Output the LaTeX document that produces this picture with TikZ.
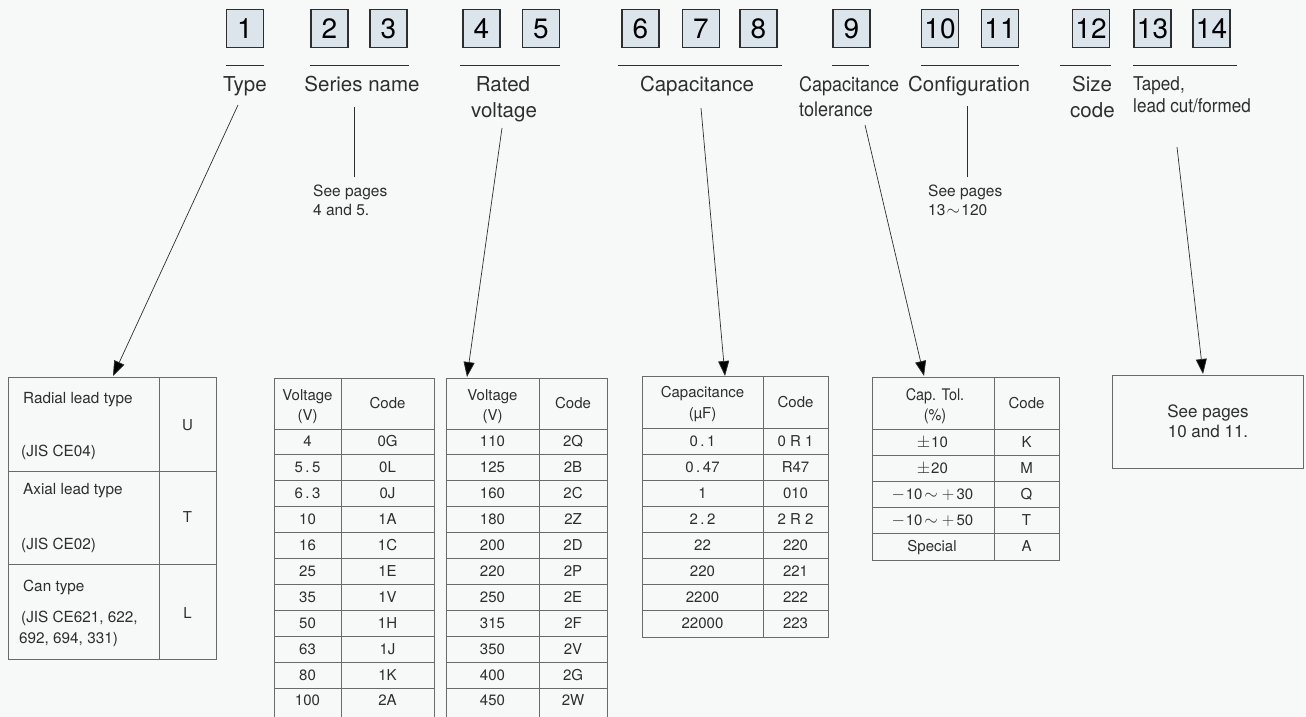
\documentclass[tikz,border=0pt]{standalone}
\usepackage{fontspec}
\setmainfont{TeX Gyre Heros}
\newfontfamily\narrowfont[FakeStretch=0.9]{TeX Gyre Heros}
\usetikzlibrary{arrows.meta}
\definecolor{bg}{HTML}{F7F8F8}
\definecolor{boxfill}{HTML}{DCE4EC}
\definecolor{ink}{HTML}{2E2E2E}
\definecolor{gridc}{HTML}{6A6A6A}
\newcommand{\wsym}[2]{\makebox[#1]{\fontsize{19}{19}\selectfont$#2$}}
\newcommand{\wdot}{\kern2.5pt.\kern2.5pt}
\begin{document}
\begin{tikzpicture}[x=1pt,y=-1pt,
  numbox/.style={draw=ink, line width=1.1pt, fill=boxfill, minimum width=37pt, minimum height=38pt, inner sep=0pt, font=\fontsize{28}{28}\selectfont, text=black},
  uline/.style={draw=ink, line width=0.9pt},
  lbl/.style={anchor=base, font=\fontsize{20.5}{24}\selectfont, text=ink, inner sep=0pt},
  lblw/.style={anchor=base west, font=\fontsize{20.5}{24}\selectfont, text=ink, inner sep=0pt},
  nlbl/.style={anchor=base west, font=\narrowfont\fontsize{20}{24}\selectfont, text=ink, inner sep=0pt},
  small/.style={anchor=base west, font=\fontsize{15.5}{17}\selectfont, text=ink, inner sep=0pt},
  cell/.style={anchor=base, font=\fontsize{15}{16}\selectfont, text=ink, inner sep=0pt},
  cellw/.style={anchor=base west, font=\fontsize{15.3}{16}\selectfont, text=ink, inner sep=0pt},
  gridl/.style={draw=gridc, line width=0.9pt},
  lead/.style={draw=ink, line width=0.7pt},
  pointer/.style={draw=ink, line width=0.7pt, -{Triangle[length=15pt,width=11pt,fill=black]}},
]
\useasboundingbox (0,0) rectangle (1306,717);
\fill[bg] (0,0) rectangle (1306,717);

% ---------- header boxes ----------
\node[numbox] (b1) at (245,28.5) {1};
\node[numbox] (b2) at (329.5,28.5) {2};
\node[numbox] (b3) at (388.5,28.5) {3};
\node[numbox] (b4) at (481.5,28.5) {4};
\node[numbox] (b5) at (541,28.5) {5};
\node[numbox] (b6) at (640.5,28.5) {6};
\node[numbox] (b7) at (701,28.5) {7};
\node[numbox] (b8) at (758.5,28.5) {8};
\node[numbox] (b9) at (851.5,28.5) {9};
\node[numbox] (b10) at (940,28.5) {10};
\node[numbox] (b11) at (1000,28.5) {11};
\node[numbox] (b12) at (1091,28.5) {12};
\node[numbox] (b13) at (1152.5,28.5) {13};
\node[numbox] (b14) at (1211.5,28.5) {14};

% ---------- underlines ----------
\draw[uline] (226,65) -- (264,65);
\draw[uline] (310,65) -- (409,65);
\draw[uline] (460,65) -- (560,65);
\draw[uline] (618,65) -- (782,65);
\draw[uline] (832,65) -- (869,65);
\draw[uline] (921,65) -- (1019,65);
\draw[uline] (1060,65) -- (1111,65);
\draw[uline] (1133,65) -- (1237,65);

% ---------- labels ----------
\node[lbl] (lType) at (245,92) {Type};
\node[lbl] (lSeries) at (362,92) {Series name};
\node[lbl] (lRated) at (503,92) {Rated};
\node[lbl] (lVolt) at (504,117) {voltage};
\node[lbl] (lCap) at (697,92) {Capacitance};
\node[nlbl] (lTol1) at (799,92) {Capacitance};
\node[nlbl] (lTol2) at (799,116) {tolerance};
\node[lbl] (lConf) at (969,92) {Configuration};
\node[lblw] (lSize) at (1072,92) {Size};
\node[lblw] (lCode) at (1070,117) {code};
\node[nlbl, font=\narrowfont\fontsize{19}{20}\selectfont] (lTaped1) at (1133,90) {Taped,};
\node[nlbl, font=\narrowfont\fontsize{19}{20}\selectfont] (lTaped2) at (1133,112) {lead cut/formed};

% ---------- side notes ----------
\coordinate (sTop) at (354,107);
\coordinate (sBot) at (354,177);
\node[small] (sNote1) at (313,196) {See pages};
\node[small] (sNote2) at (313,215) {4 and 5.};
\draw[lead] (sTop) -- (sBot);

\coordinate (cTop) at (967,106);
\coordinate (cBot) at (967,177);
\node[small] (cNote1) at (928,196) {See pages};
\node[small] (cNote2) at (928,215) {13\wsym{16pt}{\sim}120};
\draw[lead] (cTop) -- (cBot);

% ---------- arrows ----------
\coordinate (aTypeS) at (238,105);
\coordinate (aTypeE) at (113,376);
\coordinate (aVoltS) at (502,128);
\coordinate (aVoltE) at (467,377);
\coordinate (aCapS) at (701,108);
\coordinate (aCapE) at (725,376);
\coordinate (aTolS) at (865,125);
\coordinate (aTolE) at (924,376);
\coordinate (aTapS) at (1177,147);
\coordinate (aTapE) at (1203,374);
\draw[pointer] (aTypeS) -- (aTypeE);
\draw[pointer] (aVoltS) -- (aVoltE);
\draw[pointer] (aCapS) -- (aCapE);
\draw[pointer] (aTolS) -- (aTolE);
\draw[pointer] (aTapS) -- (aTapE);

% ---------- Type table ----------
\draw[gridl] (8,377) rectangle (216,659);
\draw[gridl] (159,377) -- (159,659);
\draw[gridl] (8,471) -- (216,471);
\draw[gridl] (8,564) -- (216,564);
\node[cellw] (t1a) at (23,403) {Radial lead type};
\node[cellw] (t1b) at (21,456) {(JIS CE04)};
\node[cell] (t1c) at (187.5,430) {U};
\node[cellw] (t2a) at (23,494) {Axial lead type};
\node[cellw] (t2b) at (21,549) {(JIS CE02)};
\node[cell] (t2c) at (187.5,522) {T};
\node[cellw] (t3a) at (23,591) {Can type};
\node[cellw] (t3b) at (21,622) {(JIS CE621, 622,};
\node[cellw] (t3c) at (19,643) {692, 694, 331)};
\node[cell] (t3d) at (187.5,618) {L};

% ---------- Voltage table 1 ----------
\draw[gridl] (274,717) -- (274,378) -- (434,378) -- (434,717);
\draw[gridl] (341,378) -- (341,717);
\foreach \k in {0,...,10} \draw[gridl] (274,429+\k*25.9) -- (434,429+\k*25.9);
\node[cell] (v1h1) at (307.5,400) {Voltage};
\node[cell] (v1h2) at (307.5,420) {(V)};
\node[cell] (v1h3) at (387.5,408) {Code};
\foreach \v/\c [count=\i] in {4/0G,5\wdot5/0L,6\wdot3/0J,10/1A,16/1C,25/1E,35/1V,50/1H,63/1J,80/1K,100/2A}{
  \node[cell] (v1a\i) at (307.5,429+\i*25.9-12.95+5) {\v};
  \node[cell] (v1b\i) at (387.5,429+\i*25.9-12.95+5) {\c};
}

% ---------- Voltage table 2 ----------
\draw[gridl] (446,717) -- (446,378) -- (607,378) -- (607,717);
\draw[gridl] (539,378) -- (539,717);
\foreach \k in {0,...,10} \draw[gridl] (446,429+\k*25.9) -- (607,429+\k*25.9);
\node[cell] (v2h1) at (492.5,400) {Voltage};
\node[cell] (v2h2) at (492.5,420) {(V)};
\node[cell] (v2h3) at (573,408) {Code};
\foreach \v/\c [count=\i] in {110/2Q,125/2B,160/2C,180/2Z,200/2D,220/2P,250/2E,315/2F,350/2V,400/2G,450/2W}{
  \node[cell] (v2a\i) at (492.5,429+\i*25.9-12.95+5) {\v};
  \node[cell] (v2b\i) at (573,429+\i*25.9-12.95+5) {\c};
}

% ---------- Capacitance table ----------
\draw[gridl] (642,376) rectangle (828,637);
\draw[gridl] (763,376) -- (763,637);
\foreach \k in {0,...,7} \draw[gridl] (642,428+\k*26.1) -- (828,428+\k*26.1);
\node[cell] (ch1) at (702.5,397) {Capacitance};
\node[cell] (ch2) at (702.5,418) {(µF)};
\node[cell] (ch3) at (795.5,407) {Code};
\foreach \v/\c [count=\i] in {0\wdot1/0 R 1,0\wdot47/R47,1/010,2\wdot2/2 R 2,22/220,220/221,2200/222,22000/223}{
  \node[cell] (ca\i) at (702.5,428+\i*26.1-13.05+5) {\v};
  \node[cell] (cb\i) at (795.5,428+\i*26.1-13.05+5) {\c};
}

% ---------- Tolerance table ----------
\draw[gridl] (872,377) rectangle (1059,560);
\draw[gridl] (994,377) -- (994,560);
\foreach \k in {0,...,4} \draw[gridl] (872,429+\k*26.2) -- (1059,429+\k*26.2);
\node[cell, font=\narrowfont\fontsize{16}{16}\selectfont] (th1) at (935,400) {Cap. Tol.};
\node[cell, font=\narrowfont\fontsize{16}{16}\selectfont] (th2) at (935,420) {(\%)};
\node[cell] (th3) at (1026.5,408) {Code};
\node[cell] (ta1) at (932,429+13.1+5) {\wsym{15pt}{\pm}10};
\node[cell] (tb1) at (1026.5,429+13.1+5) {K};
\node[cell] (ta2) at (932,429+39.3+5) {\wsym{15pt}{\pm}20};
\node[cell] (tb2) at (1026.5,429+39.3+5) {M};
\node[cell] (ta3) at (932,429+65.5+5) {\wsym{15pt}{-}10\wsym{17pt}{\sim}\wsym{17pt}{+}30};
\node[cell] (tb3) at (1026.5,429+65.5+5) {Q};
\node[cell] (ta4) at (932,429+91.7+5) {\wsym{15pt}{-}10\wsym{17pt}{\sim}\wsym{17pt}{+}50};
\node[cell] (tb4) at (1026.5,429+91.7+5) {T};
\node[cell] (ta5) at (932,429+117.9+5) {Special};
\node[cell] (tb5) at (1026.5,429+117.9+5) {A};

% ---------- See pages box ----------
\draw[gridl] (1112,375) rectangle (1303,468);
\node[cell, font=\fontsize{17}{20}\selectfont] (p1) at (1208,417) {See pages};
\node[cell, font=\fontsize{17}{20}\selectfont] (p2) at (1208,437) {10 and 11.};
\end{tikzpicture}
\end{document}
